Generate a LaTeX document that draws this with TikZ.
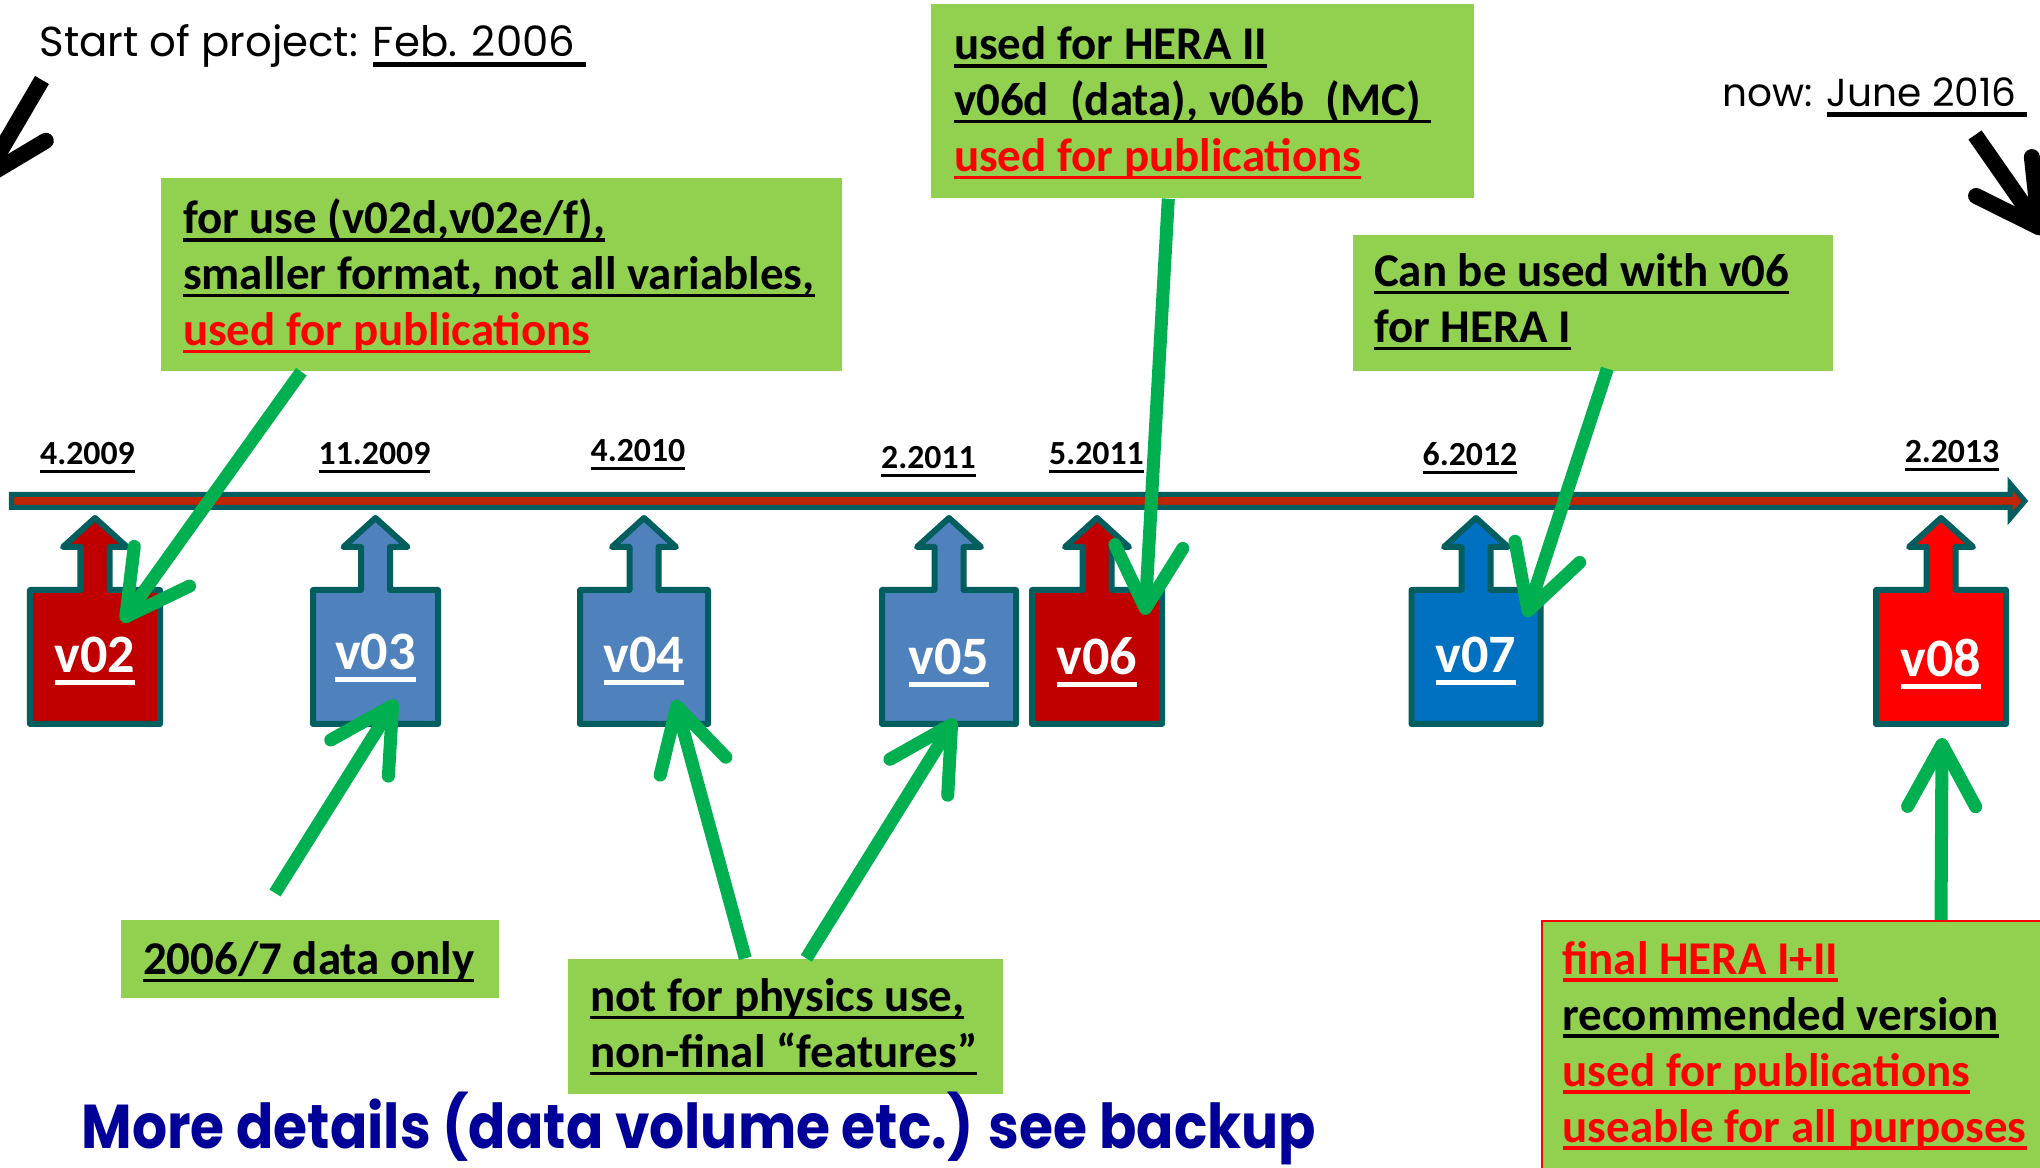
\documentclass[tikz,border=0pt]{standalone}
\usepackage{fontspec}
\setmainfont{Carlito}
\newfontfamily\handfont{Poppins}
\newfontfamily\morefont[FakeStretch=0.89]{Poppins}
\usepackage{tikz}
\usetikzlibrary{arrows.meta, positioning, calc, fit}
\definecolor{barteal}{RGB}{0,94,94}
\definecolor{barred}{RGB}{192,36,0}
\definecolor{verdark}{RGB}{192,0,0}
\definecolor{verblue}{RGB}{79,129,189}
\definecolor{verdeep}{RGB}{0,112,192}
\definecolor{verred}{RGB}{255,0,0}
\definecolor{notegreen}{RGB}{146,208,80}
\definecolor{pointgreen}{RGB}{0,176,80}
\definecolor{moreblue}{RGB}{0,0,153}
\definecolor{hotred}{RGB}{255,0,0}
% underline depth / thickness set by each style
\newcommand{\uldepth}{2pt}
\newcommand{\ulthick}{0.8pt}
\newsavebox{\ulbox}
\newcommand{\ud}[1]{\sbox{\ulbox}{#1}%
  \rlap{\vrule width\wd\ulbox height\dimexpr\ulthick-\uldepth\relax depth\uldepth}\usebox{\ulbox}}
\newcommand{\hot}[1]{\textcolor{hotred}{\ud{#1}}}
% version box: up arrow on a square
\newcommand{\vershape}[3]{%
  \draw[verline, fill=#3] ({#1-#2+3},724) -- ({#1+#2-3},724) -- ({#1+#2-3},590)
    -- ({#1+14.5},590) -- ({#1+14.5},547) -- ({#1+32},547) -- (#1,518)
    -- ({#1-32},547) -- ({#1-14.5},547) -- ({#1-14.5},590) -- ({#1-#2+3},590) -- cycle;}
\tikzset{
  notebox/.style={rectangle, fill=notegreen, inner sep=0pt, fit={#1}},
  notetext/.style={anchor=base west, align=left, inner sep=0pt,
    font=\fontsize{13.35pt}{15.9pt}\selectfont\bfseries\def\uldepth{2.3pt}\def\ulthick{1.1pt}},
  datelabel/.style={anchor=base, inner sep=0pt,
    font=\fontsize{9.6pt}{11pt}\selectfont\bfseries\def\uldepth{2.2pt}\def\ulthick{0.8pt}},
  verlabel/.style={anchor=base, inner sep=0pt, text=white,
    font=\fontsize{15.4pt}{18pt}\selectfont\bfseries\def\uldepth{3.4pt}\def\ulthick{1.4pt}},
  handtext/.style={inner sep=0pt,
    font=\handfont\fontsize{#1}{13pt}\selectfont\def\uldepth{2.8pt}\def\ulthick{1.4pt}},
  verline/.style={draw=barteal, line width=0.06cm, line join=round},
  pointer/.style={draw=pointgreen, line width=0.13cm,
    -{Straight Barb[length=0.62cm, width=0.68cm, round]}},
  bigpointer/.style={draw=black, line width=0.16cm,
    -{Straight Barb[length=0.62cm, width=0.68cm, round]}}
}

\begin{document}
\begin{tikzpicture}[x=0.01cm, y=-0.01cm]
  \useasboundingbox (0,0) rectangle (2040,1168);

  % time line
  \draw[draw=barteal, fill=barred, line width=0.05cm, line join=miter]
    (11.5,494.5) -- (2010,494.5) -- (2010,483.5) -- (2025,501)
    -- (2010,518.5) -- (2010,507.5) -- (11.5,507.5) -- cycle;

  % dates
  \node[datelabel] (d0409) at (87.5,465) {\ud{4.2009}};
  \node[datelabel] (d1109) at (374.5,465) {\ud{11.2009}};
  \node[datelabel] (d0410) at (638,462) {\ud{4.2010}};
  \node[datelabel] (d0211) at (928.5,469) {\ud{2.2011}};
  \node[datelabel] (d0511) at (1096.5,465) {\ud{5.2011}};
  \node[datelabel] (d0612) at (1470,466) {\ud{6.2012}};
  \node[datelabel] (d0213) at (1952,463) {\ud{2.2013}};

  % versions
  \vershape{95}{68}{verdark}
  \vershape{375.5}{65.5}{verblue}
  \vershape{644}{67}{verblue}
  \vershape{949}{70}{verblue}
  \vershape{1097}{68}{verdark}
  \vershape{1476}{67.5}{verdeep}
  \vershape{1941}{68}{verred}
  \node[verlabel] (v02) at (95,673) {\ud{v02}};
  \node[verlabel] (v03) at (375.5,670) {\ud{v03}};
  \node[verlabel] (v04) at (644,673) {\ud{v04}};
  \node[verlabel] (v05) at (949,675) {\ud{v05}};
  \node[verlabel] (v06) at (1097,675) {\ud{v06}};
  \node[verlabel] (v07) at (1476,673) {\ud{v07}};
  \node[verlabel] (v08) at (1941,677) {\ud{v08}};

  % notes (text anchored at the baseline of its last line)
  \node[notebox={(161,178) (842,371)}] (early) {};
  \node[notetext] (earlytxt) at ($(early.north west)+(22,168)$)
    {\ud{for use (v02d,v02e/f),}\\\ud{smaller format, not all variables,}\\\hot{used for publications}};
  \node[notebox={(931,4) (1474,198)}] (hera2) {};
  \node[notetext] (hera2txt) at ($(hera2.north west)+(23,168)$)
    {\ud{used for HERA II}\\\ud{v06d\ \ (data), v06b\ \ (MC)\ }\\\hot{used for publications}};
  \node[notebox={(1353,235) (1833,371)}] (hera1) {};
  \node[notetext] (hera1txt) at ($(hera1.north west)+(21,108)$)
    {\ud{Can be used with v06}\\\ud{for HERA I}};
  \node[notebox={(121,920) (499,998)}] (only) {};
  \node[notetext] (onlytxt) at ($(only.north west)+(22,55)$) {\ud{2006/7 data only}};
  \node[notebox={(568,959) (1003,1094)}] (nophys) {};
  \node[notetext] (nophystxt) at ($(nophys.north west)+(22,109)$)
    {\ud{not for physics use,}\\\ud{non-final “features”}};
  \node[notebox={(1542,921) (2060,1190)}, draw=hotred, line width=0.02cm] (final) {};
  \node[notetext] (finaltxt) at ($(final.north west)+(21,222)$)
    {\hot{final HERA I+II}\\\ud{recommended version}\\\hot{used for publications}\\\hot{useable for all purposes}};

  % free texts
  \node[handtext=11.9pt, anchor=base west] (start) at (39,57) {Start of project: \ud{Feb. 2006\ }};
  \node[handtext=11.1pt, anchor=base west] (now) at (1722,107) {now: \ud{June 2016\ }};
  \node[anchor=base west, inner sep=0pt, text=moreblue,
    font=\morefont\bfseries\fontsize{17.6pt}{20pt}\selectfont] (more) at (81,1148)
    {More details (data volume etc.) see backup};

  % black arrows
  \coordinate (starttail) at (42,80);
  \coordinate (starttip) at (-19,184);
  \coordinate (nowtail) at (1975,135);
  \coordinate (nowtip) at (2044,234);
  \draw[bigpointer] (starttail) -- (starttip);
  \draw[bigpointer] (nowtail) -- (nowtip);

  % green arrows
  \coordinate (tip02) at (122,622);
  \coordinate (tip03) at (396,700);
  \coordinate (tail03) at (275,893);
  \coordinate (tip04) at (675,700);
  \coordinate (tip05) at (955,719);
  \coordinate (tip06) at (1145,615);
  \coordinate (tip07) at (1526,617);
  \coordinate (tip08) at (1942,738);
  \draw[pointer] ($(early.south west)+(141,0)$) -- (tip02);
  \draw[pointer] (tail03) -- (tip03);
  \draw[pointer] ($(nophys.north west)+(178,0)$) -- (tip04);
  \draw[pointer] ($(nophys.north west)+(239,0)$) -- (tip05);
  \draw[pointer] ($(hera2.south west)+(238,0)$) -- (tip06);
  \draw[pointer] ($(hera1.south west)+(255,-3)$) -- (tip07);
  \draw[pointer] ($(final.north west)+(400,0)$) -- (tip08);

\end{tikzpicture}
\end{document}
